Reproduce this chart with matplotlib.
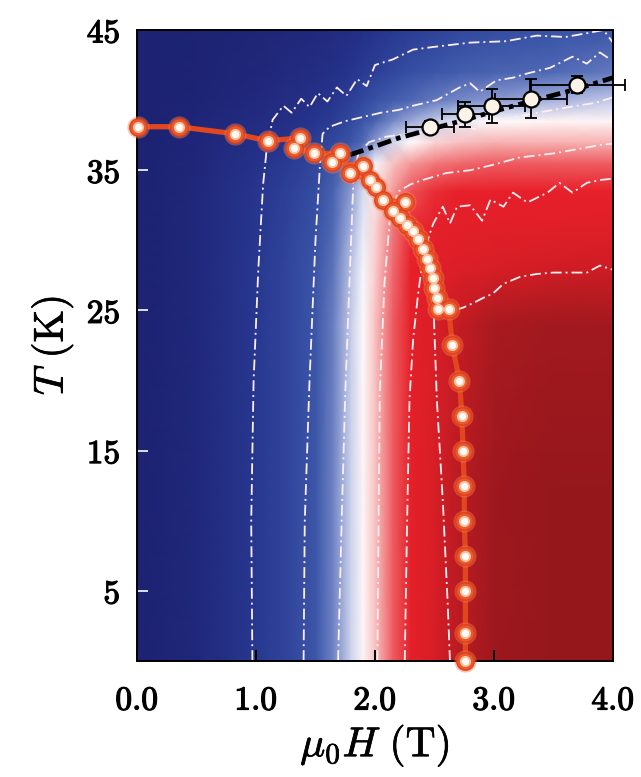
import numpy as np
import matplotlib
matplotlib.use("Agg")
import matplotlib.pyplot as plt
import matplotlib.patheffects as pe
from matplotlib.colors import LinearSegmentedColormap

plt.rcParams["mathtext.fontset"] = "cm"
plt.rcParams["font.family"] = ["DejaVu Serif"]

# ---- order-parameter map on a (T, H) grid -------------------------------
field_nodes = [0.0, 0.5, 1.0, 1.25, 1.5, 1.65, 1.8, 1.9, 2.0, 2.15, 2.3, 2.5, 2.7, 3.0, 3.5, 4.0]
temp_nodes = [0, 12, 24, 28, 31, 33.5, 35.5, 37, 38.5, 40, 42, 45]
map_values = [
    [-1.0, -0.93, -0.78, -0.68, -0.55, -0.32, -0.10, 0.02, 0.12, 0.30, 0.42, 0.52, 0.70, 0.88, 0.95, 0.95],
    [-1.0, -0.93, -0.78, -0.68, -0.55, -0.32, -0.10, 0.02, 0.12, 0.30, 0.42, 0.52, 0.70, 0.88, 0.95, 0.95],
    [-1.0, -0.93, -0.78, -0.68, -0.55, -0.33, -0.11, 0.01, 0.12, 0.30, 0.42, 0.50, 0.64, 0.80, 0.86, 0.86],
    [-1.0, -0.93, -0.78, -0.68, -0.57, -0.36, -0.14, -0.02, 0.10, 0.28, 0.40, 0.45, 0.48, 0.52, 0.56, 0.58],
    [-1.0, -0.93, -0.79, -0.70, -0.59, -0.40, -0.18, -0.05, 0.08, 0.25, 0.38, 0.42, 0.43, 0.44, 0.45, 0.46],
    [-1.0, -0.93, -0.80, -0.72, -0.62, -0.45, -0.24, -0.08, 0.05, 0.20, 0.32, 0.38, 0.40, 0.40, 0.40, 0.40],
    [-1.0, -0.94, -0.83, -0.76, -0.67, -0.55, -0.36, -0.18, -0.02, 0.12, 0.20, 0.25, 0.28, 0.30, 0.30, 0.30],
    [-1.0, -0.95, -0.86, -0.81, -0.74, -0.66, -0.55, -0.40, -0.25, -0.10, 0.00, 0.08, 0.12, 0.15, 0.15, 0.15],
    [-1.0, -0.96, -0.89, -0.86, -0.80, -0.74, -0.65, -0.55, -0.45, -0.30, -0.20, -0.12, -0.05, 0.00, 0.02, 0.02],
    [-1.0, -0.97, -0.92, -0.88, -0.84, -0.80, -0.72, -0.65, -0.58, -0.50, -0.42, -0.35, -0.30, -0.25, -0.18, -0.12],
    [-1.0, -0.98, -0.94, -0.91, -0.88, -0.85, -0.80, -0.76, -0.72, -0.66, -0.60, -0.55, -0.50, -0.45, -0.40, -0.35],
    [-1.0, -0.98, -0.96, -0.94, -0.92, -0.90, -0.87, -0.85, -0.82, -0.78, -0.74, -0.70, -0.66, -0.62, -0.58, -0.55],
]

# ---- iso-lines of the map (dash-dot, white) -----------------------------
iso_a_H = [0.97, 0.96, 0.98, 1.02, 1.06, 1.09, 1.14, 1.23, 1.30, 1.38, 1.45, 1.52, 1.60, 1.68, 1.76, 1.85, 1.93,
           2.00, 2.15, 2.32, 2.50, 2.80, 3.10, 3.36, 3.60, 3.80, 3.92, 4.00]
iso_a_T = [0, 10, 20, 28, 34, 36.5, 38.6, 39.6, 39.1, 40.1, 39.5, 40.5, 39.9, 40.9, 40.3, 41.5, 41.0,
           42.5, 42.9, 43.6, 43.8, 44.1, 44.2, 44.6, 44.5, 44.8, 45.0, 44.1]
iso_b_H = [1.40, 1.41, 1.45, 1.50, 1.54, 1.56, 1.62, 1.75, 1.90, 2.05, 2.20, 2.32, 2.52, 2.71, 2.80, 2.88, 3.02,
           3.16, 3.28, 3.47, 3.66, 3.78, 3.89, 3.96]
iso_b_T = [0, 10, 20, 30, 35.7, 37.6, 38.1, 38.5, 38.8, 39.1, 39.3, 39.6, 40.0, 40.9, 41.2, 40.6, 41.4,
           41.6, 41.9, 42.3, 43.1, 42.6, 43.4, 43.0]
iso_c_H = [1.69, 1.72, 1.75, 1.79, 1.82, 1.86, 1.95, 2.10, 2.30, 2.50, 2.70, 2.85, 2.95, 3.10, 3.30, 3.50, 3.70,
           3.85, 4.00]
iso_c_T = [0, 10, 19, 28, 34.5, 36.2, 37.0, 37.4, 37.6, 37.8, 38.3, 37.9, 38.8, 38.6, 39.0, 39.3, 39.6,
           39.8, 40.2]
iso_d_H = [2.02, 2.03, 2.04, 2.08, 2.13, 2.20, 2.30, 2.40, 2.60, 2.80, 3.00, 3.21, 3.50, 3.70, 3.89, 4.00]
iso_d_T = [0, 10, 19, 27, 32, 33.5, 34.0, 34.3, 34.8, 35.0, 35.4, 35.9, 36.2, 36.5, 36.8, 36.9]
iso_e_H = [2.25, 2.27, 2.29, 2.32, 2.36, 2.40, 2.45, 2.49, 2.57, 2.63, 2.69, 2.80, 2.90, 2.97, 3.08, 3.16,
           3.28, 3.45, 3.55, 3.66, 3.78, 3.89, 4.00]
iso_e_T = [0, 10, 18.6, 22.9, 26, 28.6, 30.2, 31.2, 32.4, 31.2, 32.4, 32.5, 31.4, 32.9, 32.4, 33.4,
           32.7, 33.4, 34.1, 33.4, 34.1, 34.3, 34.4]
iso_f_H = [2.63, 2.61, 2.57, 2.52, 2.49, 2.55, 2.66, 2.74, 2.82, 2.91, 2.99, 3.08, 3.22, 3.36, 3.50, 3.64,
           3.78, 3.89, 4.00]
iso_f_T = [0, 4.3, 11.4, 18.6, 25.7, 24.6, 25.0, 25.2, 25.5, 25.9, 26.2, 26.9, 27.4, 27.6, 27.7, 27.7,
           27.7, 28.2, 27.9]

# ---- transition points (orange) -----------------------------------------
trans_H = [0.01, 0.35, 0.82, 1.10, 1.37, 1.32, 1.49, 1.71, 1.64, 1.90, 1.79, 1.96, 2.01, 2.07, 2.25, 2.15,
           2.21, 2.27, 2.32, 2.36, 2.40, 2.44, 2.46, 2.49, 2.50, 2.52, 2.53, 2.62, 2.65, 2.71, 2.73,
           2.74, 2.75, 2.75, 2.76, 2.76, 2.76, 2.76]
trans_T = [38.1, 38.1, 37.6, 37.1, 37.3, 36.6, 36.2, 36.2, 35.6, 35.3, 34.8, 34.3, 33.8, 32.9, 32.7, 32.1,
           31.6, 31.1, 30.7, 30.1, 29.4, 28.7, 28.0, 27.3, 26.6, 25.9, 25.1, 25.1, 22.5, 20.0, 17.5,
           15.0, 12.5, 10.0, 7.5, 5.0, 2.0, 0.0]

# ---- high-field points with error bars (white) --------------------------
hf_H = [2.46, 2.76, 2.98, 3.31, 3.70]
hf_T = [38.1, 39.0, 39.6, 40.1, 41.1]
hf_Herr = [0.20, 0.20, 0.28, 0.30, 0.40]
hf_Terr = [0.4, 0.9, 1.2, 1.4, 0.6]

# ---- boundary guide (black dashed) --------------------------------------
guide_H = [1.79, 2.00, 2.20, 2.46, 2.76, 3.00, 3.30, 3.70, 4.00]
guide_T = [36.1, 36.7, 37.3, 37.9, 38.6, 39.2, 39.9, 40.8, 41.6]

# ---- tick labels --------------------------------------------------------
x_ticks = [0, 1, 2, 3, 4]
x_labels = ["0.0", "1.0", "2.0", "3.0", "4.0"]
y_ticks = [5, 15, 25, 35, 45]
y_labels = ["5", "15", "25", "35", "45"]

cmap = LinearSegmentedColormap.from_list("phase", [
    (0.0, "#1d2272"), (0.1, "#27358e"), (0.2, "#3650a4"), (0.3, "#5069b5"),
    (0.4, "#9ca8d9"), (0.5, "#ffffff"), (0.6, "#f49a9a"), (0.7, "#e8202a"),
    (0.8, "#cc1c24"), (0.9, "#aa1a20"), (1.0, "#8e161b")])

fig = plt.figure(figsize=(6.41, 7.77), dpi=100)
ax = fig.add_axes([0.2137, 0.1493, 0.7426, 0.8121])

HH, TT = np.meshgrid(field_nodes, temp_nodes)
ax.pcolormesh(HH, TT, np.array(map_values), cmap=cmap, vmin=-1, vmax=1,
              shading="gouraud", zorder=0, rasterized=True)

iso_style = dict(color="#fdeef2", lw=1.3, ls=(0, (6, 2.2, 1.1, 2.2)), zorder=2)
for h, t in [(iso_a_H, iso_a_T), (iso_b_H, iso_b_T), (iso_c_H, iso_c_T),
             (iso_d_H, iso_d_T), (iso_e_H, iso_e_T), (iso_f_H, iso_f_T)]:
    ax.plot(h, t, **iso_style)

ax.plot(guide_H, guide_T, color="black", lw=3.4, ls=(0, (3.0, 1.1, 1.0, 1.1)), zorder=3)

# orange transition line and glowing markers
ax.plot(trans_H, trans_T, color="#e2461f", lw=3.8, zorder=4, clip_on=False)
ax.plot(trans_H, trans_T, ls="none", marker="o", ms=16, mfc="#f07a48", mec="none",
        alpha=0.45, zorder=4, clip_on=False)
ax.plot(trans_H, trans_T, ls="none", marker="o", ms=12.5, mfc="#ec5a2c", mec="#e0401c",
        mew=1.0, zorder=5, clip_on=False)
ax.plot(trans_H, trans_T, ls="none", marker="o", ms=8.0, mfc="#f9c2a2", mec="none",
        zorder=5, clip_on=False)
ax.plot(trans_H, trans_T, ls="none", marker="o", ms=5.2, mfc="#fffaf4", mec="none",
        zorder=5, clip_on=False)

# high-field points
ax.errorbar(hf_H, hf_T, xerr=hf_Herr, yerr=hf_Terr, fmt="none", ecolor="black",
            elinewidth=1.3, capsize=4.5, capthick=1.3, zorder=6, clip_on=False)
ax.plot(hf_H, hf_T, ls="none", marker="o", ms=11.5, mfc="#fbf3e8", mec="black",
        mew=1.6, zorder=7, clip_on=False)

ax.set_xlim(0, 4)
ax.set_ylim(0, 45)
ax.set_xticks(x_ticks)
ax.set_xticklabels([r"$\mathbf{%s}$" % s for s in x_labels])
ax.set_yticks(y_ticks)
ax.set_yticklabels([r"$\mathbf{%s}$" % s for s in y_labels])
ax.tick_params(axis="both", direction="in", labelsize=24, length=8, width=1.4)
ax.tick_params(axis="x", pad=17, colors="black")
ax.tick_params(axis="y", pad=12, color="#dde0f2")
heavy = [pe.withStroke(linewidth=0.9, foreground="black")]
for lab in ax.get_xticklabels() + ax.get_yticklabels():
    lab.set_path_effects(heavy)
for s in ax.spines.values():
    s.set_color("black")
    s.set_linewidth(1.4)

ax.set_xlabel(r"$\mu_0H\ (\mathrm{T})$", fontsize=30, labelpad=4)
ax.set_ylabel(r"$T\ (\mathrm{K})$", fontsize=30, labelpad=8)
for lab in (ax.xaxis.label, ax.yaxis.label):
    lab.set_path_effects([pe.withStroke(linewidth=0.5, foreground="black")])

fig.savefig("out.png", dpi=100)
